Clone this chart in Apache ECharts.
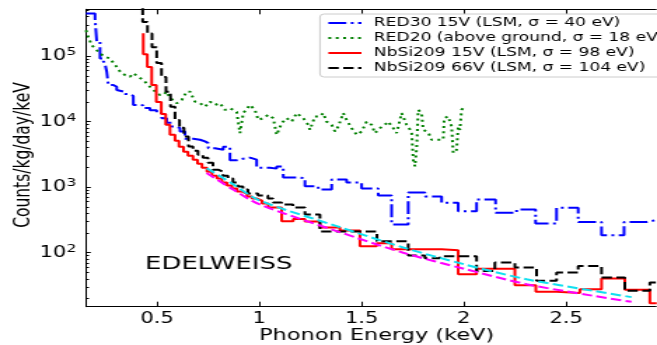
<!DOCTYPE html>
<html><head><meta charset="utf-8">
<script src="https://cdn.jsdelivr.net/npm/echarts@6/dist/echarts.min.js"></script>
<style>
html,body{margin:0;padding:0;background:#fff;overflow:hidden;width:657px;height:345px}
#c{width:469px;height:345px;transform:scaleX(1.4009);transform-origin:0 0;}
</style>
</head><body><div id="c"></div>
<script>
// ---- axis ticks ----
const xTickValues = [0.5, 1, 1.5, 2, 2.5];
const xTickLabels = ['0.5', '1', '1.5', '2', '2.5'];
const yTickExponents = [2, 3, 4, 5];
const xRange = [0.153, 2.94];
const yRange = [15, 518000];

// ---- series (bin start energy in keV, counts/kg/day/keV) ----
const seriesNames = [
  'RED30 15V (LSM, \u03c3 = 40 eV)',
  'RED20 (above ground, \u03c3 = 18 eV)',
  'NbSi209 15V (LSM, \u03c3 = 98 eV)',
  'NbSi209 66V (LSM, \u03c3 = 104 eV)'
];

const blueX = [0.153, 0.197, 0.2053, 0.2214, 0.2375, 0.2458, 0.2542, 0.262, 0.2864, 0.303, 0.311, 0.3436, 0.3597, 0.3842, 0.4169, 0.433, 0.4658, 0.4985, 0.523, 0.5474, 0.5718, 0.5963, 0.6124, 0.6369, 0.6774, 0.7102, 0.7346, 0.7507, 0.7835, 0.824, 0.8568, 0.8895, 0.920, 0.9545, 0.9873, 1.0523, 1.085, 1.1173, 1.199, 1.2234, 1.2884, 1.3539, 1.4272, 1.5005, 1.5816, 1.647, 1.7283, 1.810, 1.8915, 1.9726, 2.0626, 2.1554, 2.258, 2.351, 2.4536, 2.5592, 2.6735, 2.7835, 2.895, 2.943];
const blueY = [446000, 372000, 165000, 92300, 84000, 75600, 57700, 36300, 34100, 30400, 28400, 26400, 24700, 18000, 17700, 16200, 14900, 13600, 11300, 9590, 8430, 7970, 7070, 5480, 5290, 4990, 4710, 3930, 3730, 4140, 2580, 2720, 2820, 2630, 1985, 1920, 2060, 1400, 1375, 1032, 920, 1306, 1175, 952, 745, 270, 828, 720, 577, 431, 648, 406, 457, 280, 484, 295, 184, 295, 316, 316];

const greenX = [0.153, 0.1642, 0.1808, 0.2053, 0.2214, 0.2458, 0.2702, 0.2947, 0.3109, 0.3192, 0.3436, 0.368, 0.3842, 0.4086, 0.433, 0.4575, 0.4819, 0.5147, 0.5308, 0.5474, 0.5635, 0.5797, 0.5963, 0.6207, 0.6452, 0.6613, 0.6857, 0.7102, 0.7346, 0.759, 0.7835, 0.8079, 0.8324, 0.8568, 0.873, 0.8895, 0.9057, 0.9218, 0.9545, 0.979, 0.9951, 1.0195, 1.044, 1.0684, 1.085, 1.1095, 1.134, 1.1584, 1.1828, 1.2151, 1.2395, 1.2478, 1.2722, 1.2967, 1.3128, 1.3294, 1.3539, 1.37, 1.3862, 1.4106, 1.4272, 1.4516, 1.4761, 1.5005, 1.5249, 1.5494, 1.5655, 1.59, 1.6144, 1.6305, 1.655, 1.6716, 1.696, 1.7204, 1.7449, 1.7527, 1.761, 1.7693, 1.7771, 1.7937, 1.8015, 1.826, 1.8426, 1.8993, 1.9042, 1.9238, 1.9404, 1.9482, 1.9648, 1.9726, 1.9809, 1.9892, 2.0005];
const greenY = [248000, 196000, 147000, 123000, 110000, 97500, 92300, 72900, 65000, 57700, 51400, 48400, 54600, 48400, 43100, 36200, 30400, 25500, 25500, 28700, 22800, 21400, 19100, 21400, 28700, 28700, 20200, 19100, 16900, 20200, 18000, 19100, 15100, 16000, 15100, 14100, 6680, 13500, 18000, 15100, 10600, 11300, 12700, 11300, 6300, 9490, 11300, 10000, 13500, 11300, 8940, 7500, 12000, 12000, 13500, 10000, 8940, 7080, 8430, 13500, 10600, 7960, 6300, 7080, 10000, 8940, 6680, 7960, 8940, 10000, 7960, 6680, 13500, 8940, 7000, 2620, 2080, 3950, 15100, 13500, 7500, 6870, 5290, 5290, 11300, 12000, 8430, 3320, 3720, 8430, 7500, 15100, 16800];

const redX = [0.433, 0.433, 0.4526, 0.4741, 0.4966, 0.521, 0.5425, 0.5635, 0.588, 0.6075, 0.6295, 0.6515, 0.676, 0.698, 0.720, 0.7444, 0.7688, 0.7933, 0.8177, 0.8421, 0.8666, 0.891, 0.9154, 0.9399, 0.9643, 0.9888, 1.0132, 1.044, 1.1095, 1.1662, 1.2234, 1.2967, 1.3944, 1.4922, 1.5738, 1.6471, 1.8915, 1.9726, 2.0626, 2.2498, 2.3524, 2.4536, 2.5675, 2.6735, 2.7874, 2.9096, 2.943];
const redY = [224000, 107000, 68100, 36300, 20000, 13100, 8940, 6300, 5110, 4140, 3475, 3020, 2625, 2285, 1985, 1727, 1500, 1352, 1175, 1058, 952, 857, 800, 720, 671, 626, 564, 490, 303, 328, 300, 243, 219, 126, 139, 113, 109, 47, 57, 32, 25.3, 24.2, 27.8, 40.4, 27.1, 17.0, 17.0];

const blackX = [0.4301, 0.4301, 0.4536, 0.4756, 0.4985, 0.522, 0.544, 0.566, 0.588, 0.610, 0.632, 0.654, 0.676, 0.7004, 0.7248, 0.7493, 0.7737, 0.7981, 0.8226, 0.847, 0.8715, 0.8959, 0.9203, 0.9448, 0.9936, 1.0425, 1.067, 1.1095, 1.1647, 1.2234, 1.2967, 1.5753, 1.7283, 1.8099, 1.8832, 2.0626, 2.152, 2.2498, 2.3558, 2.4536, 2.5592, 2.6735, 2.7874, 2.9096, 2.943];
const blackY = [800000, 332000, 221000, 137000, 78300, 48000, 28700, 16900, 10600, 8050, 5940, 4190, 3600, 3130, 2815, 2365, 1850, 1727, 1500, 1352, 1175, 1021, 920, 800, 745, 671, 584, 544, 490, 384, 211, 149, 91, 82, 88, 52.7, 70.7, 59.3, 37.2, 49.9, 62.8, 41.9, 26.2, 35.1, 35.1];

const cyanFitX = [0.743, 0.87, 1.0, 1.378, 1.704, 2.0005, 2.307, 2.6325, 2.82];
const cyanFitY = [1950, 1120, 630, 255, 120, 66.7, 39.4, 26.2, 21.0];
const magentaFitX = [0.743, 0.87, 1.0, 1.378, 1.704, 2.0005, 2.307, 2.6325, 2.82];
const magentaFitY = [1650, 930, 550, 214, 100, 56.9, 33.1, 22.0, 17.8];

const experimentLabel = 'EDELWEISS';

// ---- build ----
const zip = (xs, ys) => xs.map((x, i) => [x, ys[i]]);
const minorLog = [];
for (let e = 1; e <= 5; e++) for (let m = 2; m <= 9; m++) {
  const v = m * Math.pow(10, e);
  if (v > yRange[0] && v < yRange[1]) minorLog.push(Math.log10(v));
}
const FONT = 'DejaVu Sans';
const lyMin = Math.log10(yRange[0]), lyMax = Math.log10(yRange[1]);

function lineSeries(name, xs, ys, color, type, step, z, smooth) {
  return {
    name, type: 'line', xAxisIndex: 0, yAxisIndex: 0,
    data: zip(xs, ys), step: step || false, smooth: smooth || false,
    symbol: 'none', showSymbol: false, z: z, animation: false,
    lineStyle: { color, width: 2, type, cap: 'butt' },
    itemStyle: { color }, emphasis: { disabled: true }
  };
}

const chart = echarts.init(document.getElementById('c'), null, { renderer: 'canvas' });
chart.setOption({
  animation: false,
  backgroundColor: '#fff',
  textStyle: { fontFamily: FONT },
  grid: { left: 61.4, right: 0.7, top: 9.3, bottom: 38.3, containLabel: false, outerBoundsMode: 'none' },
  legend: {
    data: seriesNames, orient: 'vertical', left: 228.4, top: 14,
    padding: [3, 6, 3, 5], itemGap: 3, itemWidth: 23.6, itemHeight: 14,
    borderColor: '#cccccc', borderWidth: 1, borderRadius: 3,
    backgroundColor: 'rgba(255,255,255,0.8)',
    itemStyle: { opacity: 0, borderWidth: 0 },
    formatter: name => ' ' + name,
    textStyle: { fontFamily: FONT, fontSize: 12.2, color: '#000' },
    selectedMode: false
  },
  xAxis: [{
    type: 'value', min: xRange[0], max: xRange[1], position: 'bottom',
    axisLine: { show: true, onZero: false, lineStyle: { color: '#000', width: 1 } },
    axisTick: { show: true, inside: true, length: 5, customValues: xTickValues, lineStyle: { color: '#000' } },
    axisLabel: { customValues: xTickValues, formatter: v => xTickLabels[xTickValues.indexOf(v)] ?? String(v),
      fontSize: 15, color: '#000', margin: 5, fontFamily: FONT },
    splitLine: { show: false },
    name: 'Phonon Energy (keV)', nameLocation: 'middle', nameGap: 21, nameMoveOverlap: false,
    nameTextStyle: { fontSize: 16, color: '#000', fontFamily: FONT, padding: [0, 0, 0, 8] }
  }, {
    type: 'value', min: xRange[0], max: xRange[1], position: 'top',
    axisLine: { show: true, onZero: false, lineStyle: { color: '#000', width: 1 } },
    axisTick: { show: true, inside: true, length: 5, customValues: xTickValues, lineStyle: { color: '#000' } },
    axisLabel: { show: false }, splitLine: { show: false }
  }],
  yAxis: [{
    type: 'log', min: yRange[0], max: yRange[1], show: false, logBase: 10,
    splitLine: { show: false }
  }, {
    type: 'value', min: lyMin, max: lyMax, position: 'left',
    axisLine: { show: true, onZero: false, lineStyle: { color: '#000', width: 1 } },
    axisTick: { show: true, inside: true, length: 3.4, customValues: yTickExponents, lineStyle: { color: '#000' } },
    axisLabel: { customValues: yTickExponents, margin: 7, color: '#000',
      formatter: v => '{b|10}{s|' + Math.round(v) + '}',
      rich: { b: { fontSize: 15, fontFamily: FONT, color: '#000' },
              s: { fontSize: 11, fontFamily: FONT, color: '#000', padding: [0, 0, 8, 0] } } },
    splitLine: { show: false },
    name: 'Counts/kg/day/keV', nameLocation: 'middle', nameGap: 36.5, nameMoveOverlap: false,
    nameTextStyle: { fontSize: 15.5, color: '#000', fontFamily: FONT, padding: [0, 0, 0, 6] }
  }, {
    type: 'value', min: lyMin, max: lyMax, position: 'left',
    axisLine: { show: false },
    axisTick: { show: true, inside: true, length: 2.1, customValues: minorLog, lineStyle: { color: '#000' } },
    axisLabel: { show: false }, splitLine: { show: false }
  }],
  graphic: [{
    type: 'text', x: 103.5, y: 264.5, z: 10,
    style: { text: experimentLabel, fontSize: 18.5, fontFamily: FONT, fill: '#000', align: 'left', verticalAlign: 'middle' }
  }],
  series: [
    lineSeries(seriesNames[0], blueX, blueY, '#0000ff', [12.8, 3.2, 2, 3.2], 'end', 2),
    lineSeries(seriesNames[1], greenX, greenY, '#008000', [2, 3.3], false, 2),
    lineSeries(seriesNames[2], redX, redY, '#ff0000', 'solid', 'end', 3),
    lineSeries(seriesNames[3], blackX, blackY, '#000000', [7.4, 3.2], 'end', 4),
    lineSeries('fit1', cyanFitX, cyanFitY, '#10e0f0', [7.4, 3.2], false, 5, 0.3),
    lineSeries('fit2', magentaFitX, magentaFitY, '#ff00ff', [7.4, 3.2], false, 5, 0.3)
  ]
});
</script>
</body></html>
